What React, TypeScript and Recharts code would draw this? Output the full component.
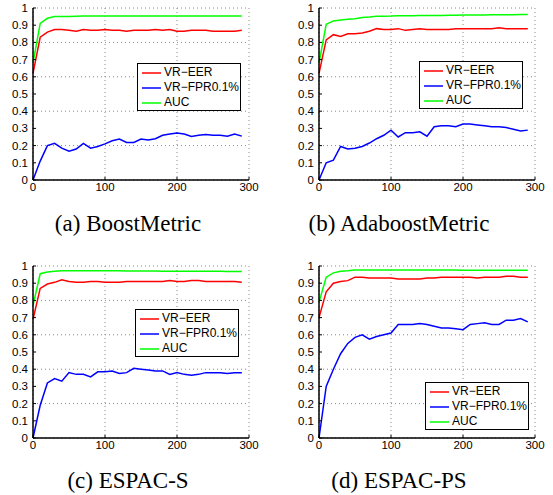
import React from "react"
import { CartesianGrid, Legend, Line, LineChart, XAxis, YAxis } from "recharts"

// boosting iterations
const iterations = [
  0, 10, 20, 30, 40, 50, 60, 70, 80, 90, 100, 110, 120, 130, 140, 150, 160, 170, 180, 190, 200, 210,
  220, 230, 240, 250, 260, 270, 280, 290,
]
const xTicks = [0, 100, 200, 300]
const yTicks = [0, 0.1, 0.2, 0.3, 0.4, 0.5, 0.6, 0.7, 0.8, 0.9, 1]

// (a) BoostMetric
const boostEer = [
  0.62, 0.83, 0.86, 0.875, 0.875, 0.87, 0.865, 0.875, 0.87, 0.87, 0.875, 0.87, 0.87, 0.865, 0.87,
  0.87, 0.87, 0.875, 0.87, 0.875, 0.865, 0.865, 0.87, 0.87, 0.87, 0.865, 0.865, 0.865, 0.865, 0.87,
]
const boostFpr = [
  0, 0.11, 0.2, 0.213, 0.185, 0.167, 0.18, 0.213, 0.185, 0.195, 0.21, 0.228, 0.238, 0.218, 0.218,
  0.238, 0.232, 0.24, 0.26, 0.267, 0.273, 0.267, 0.253, 0.26, 0.265, 0.26, 0.26, 0.255, 0.267, 0.255,
]
const boostAuc = [
  0.68, 0.91, 0.94, 0.95, 0.951, 0.951, 0.952, 0.953, 0.953, 0.953, 0.953, 0.953, 0.953, 0.953, 0.953,
  0.953, 0.953, 0.953, 0.953, 0.953, 0.953, 0.953, 0.953, 0.953, 0.953, 0.953, 0.953, 0.953, 0.953,
  0.953,
]

// (b) AdaboostMetric
const adaEer = [
  0.62, 0.815, 0.845, 0.835, 0.85, 0.85, 0.855, 0.865, 0.88, 0.875, 0.875, 0.88, 0.87, 0.875, 0.88,
  0.875, 0.875, 0.875, 0.875, 0.88, 0.88, 0.88, 0.88, 0.88, 0.88, 0.885, 0.88, 0.88, 0.88, 0.88,
]
const adaFpr = [
  0, 0.1, 0.115, 0.195, 0.18, 0.185, 0.195, 0.215, 0.24, 0.26, 0.29, 0.25, 0.275, 0.275, 0.28, 0.255,
  0.31, 0.315, 0.315, 0.31, 0.325, 0.325, 0.32, 0.315, 0.31, 0.31, 0.305, 0.295, 0.285, 0.29,
]
const adaAuc = [
  0.68, 0.905, 0.925, 0.93, 0.935, 0.937, 0.945, 0.948, 0.952, 0.952, 0.953, 0.955, 0.955, 0.955,
  0.957, 0.957, 0.957, 0.957, 0.958, 0.958, 0.96, 0.96, 0.96, 0.96, 0.961, 0.961, 0.961, 0.961, 0.962,
  0.962,
]

// (c) ESPAC-S
const espacSEer = [
  0.69, 0.87, 0.895, 0.905, 0.92, 0.91, 0.905, 0.905, 0.91, 0.91, 0.905, 0.905, 0.905, 0.91, 0.91,
  0.91, 0.91, 0.91, 0.91, 0.915, 0.91, 0.91, 0.915, 0.915, 0.91, 0.91, 0.91, 0.91, 0.91, 0.905,
]
const espacSFpr = [
  0, 0.19, 0.32, 0.345, 0.33, 0.38, 0.37, 0.37, 0.355, 0.385, 0.385, 0.39, 0.375, 0.38, 0.405, 0.4,
  0.395, 0.39, 0.39, 0.37, 0.38, 0.37, 0.365, 0.37, 0.38, 0.38, 0.38, 0.375, 0.38, 0.38,
]
const espacSAuc = [
  0.77, 0.955, 0.965, 0.97, 0.973, 0.972, 0.972, 0.972, 0.972, 0.972, 0.972, 0.972, 0.972, 0.971,
  0.971, 0.971, 0.971, 0.971, 0.97, 0.97, 0.97, 0.97, 0.97, 0.97, 0.969, 0.969, 0.969, 0.968, 0.968,
  0.968,
]

// (d) ESPAC-PS
const espacPsEer = [
  0.7, 0.85, 0.9, 0.91, 0.915, 0.935, 0.935, 0.93, 0.93, 0.93, 0.93, 0.925, 0.925, 0.925, 0.925, 0.93,
  0.93, 0.935, 0.935, 0.935, 0.935, 0.935, 0.93, 0.935, 0.935, 0.935, 0.94, 0.94, 0.935, 0.935,
]
const espacPsFpr = [
  0, 0.3, 0.4, 0.49, 0.55, 0.585, 0.6, 0.575, 0.59, 0.6, 0.61, 0.66, 0.66, 0.66, 0.665, 0.66, 0.65,
  0.64, 0.64, 0.635, 0.63, 0.66, 0.665, 0.67, 0.66, 0.66, 0.685, 0.685, 0.695, 0.675,
]
const espacPsAuc = [
  0.79, 0.935, 0.96, 0.97, 0.972, 0.977, 0.977, 0.977, 0.977, 0.977, 0.977, 0.977, 0.977, 0.977,
  0.977, 0.977, 0.977, 0.977, 0.977, 0.977, 0.976, 0.976, 0.976, 0.976, 0.976, 0.976, 0.976, 0.975,
  0.975, 0.975,
]

const seriesNames = ["VR\u2212EER", "VR\u2212FPR0.1%", "AUC"]
const seriesColors = ["#ff0000", "#0000ff", "#00ff00"]

const sans = "'Liberation Sans', Arial, sans-serif"
const serif = "'Liberation Serif', 'Times New Roman', serif"
const tickStyle = { fill: "#000", fontSize: 11.5, fontFamily: sans }

// Legend box, MATLAB style
function LegendBox() {
  return (
    <div
      style={{
        width: 104,
        height: 48,
        boxSizing: "border-box",
        border: "1.5px solid #000",
        background: "#fff",
        paddingTop: 1,
      }}
    >
      {seriesNames.map((name, i) => (
        <div key={name} style={{ height: 15.2, display: "flex", alignItems: "center" }}>
          <svg width={26} height={10} style={{ flex: "none" }}>
            <line x1={4} y1={5} x2={23} y2={5} stroke={seriesColors[i]} strokeWidth={1.5} />
          </svg>
          <span style={{ fontFamily: sans, fontSize: 12, color: "#000", lineHeight: "15px" }}>{name}</span>
        </div>
      ))}
    </div>
  )
}

interface PanelProps {
  eer: number[]
  fpr: number[]
  auc: number[]
  yAxisWidth: number
  legendLeft: number
  legendTop: number
}

function Panel({ eer, fpr, auc, yAxisWidth, legendLeft, legendTop }: PanelProps) {
  const data = iterations.map((x, i) => ({ x, eer: eer[i], fpr: fpr[i], auc: auc[i] }))
  const axisLine = { stroke: "#000", strokeWidth: 1.5 }
  return (
    <LineChart
      width={yAxisWidth + 216 + 12}
      height={200}
      data={data}
      margin={{ top: 8, right: 12, bottom: 0, left: 0 }}
    >
      <CartesianGrid stroke="#888" strokeDasharray="1 3" />
      <XAxis
        dataKey="x"
        type="number"
        domain={[0, 300]}
        ticks={xTicks}
        height={20}
        tick={tickStyle}
        tickSize={-3}
        tickMargin={6}
        axisLine={axisLine}
        tickLine={{ stroke: "#000" }}
      />
      <XAxis xAxisId="top" orientation="top" type="number" domain={[0, 300]} height={0} tick={false} axisLine={axisLine} />
      <YAxis
        type="number"
        domain={[0, 1]}
        ticks={yTicks}
        width={yAxisWidth}
        tick={tickStyle}
        tickSize={-3}
        tickMargin={8}
        axisLine={axisLine}
        tickLine={{ stroke: "#000" }}
      />
      <YAxis yAxisId="right" orientation="right" type="number" domain={[0, 1]} width={0} tick={false} axisLine={axisLine} />
      <Legend
        layout="vertical"
        align="center"
        verticalAlign="middle"
        content={() => <LegendBox />}
        wrapperStyle={{ left: legendLeft, top: legendTop, width: 104 }}
      />
      <Line type="linear" dataKey="eer" stroke={seriesColors[0]} strokeWidth={1.5} dot={false} isAnimationActive={false} />
      <Line type="linear" dataKey="fpr" stroke={seriesColors[1]} strokeWidth={1.5} dot={false} isAnimationActive={false} />
      <Line type="linear" dataKey="auc" stroke={seriesColors[2]} strokeWidth={1.5} dot={false} isAnimationActive={false} />
    </LineChart>
  )
}

function Caption({ text, centerX, top }: { text: string; centerX: number; top: number }) {
  return (
    <div
      style={{
        position: "absolute",
        left: centerX - 120,
        top,
        width: 240,
        textAlign: "center",
        fontFamily: serif,
        fontSize: 23,
        lineHeight: "23px",
        color: "#000",
      }}
    >
      {text}
    </div>
  )
}

export default function App() {
  return (
    <div style={{ position: "absolute", left: 0, top: 0, width: 553, height: 495, background: "#fff" }}>
      <div style={{ position: "absolute", left: 0, top: 0 }}>
        <Panel eer={boostEer} fpr={boostFpr} auc={boostAuc} yAxisWidth={33} legendLeft={137} legendTop={63} />
      </div>
      <div style={{ position: "absolute", left: 276, top: 0 }}>
        <Panel eer={adaEer} fpr={adaFpr} auc={adaAuc} yAxisWidth={43} legendLeft={143} legendTop={61} />
      </div>
      <div style={{ position: "absolute", left: 0, top: 258 }}>
        <Panel eer={espacSEer} fpr={espacSFpr} auc={espacSAuc} yAxisWidth={33} legendLeft={135} legendTop={51} />
      </div>
      <div style={{ position: "absolute", left: 276, top: 258 }}>
        <Panel eer={espacPsEer} fpr={espacPsFpr} auc={espacPsAuc} yAxisWidth={43} legendLeft={149} legendTop={124} />
      </div>
      <Caption text="(a) BoostMetric" centerX={128} top={212} />
      <Caption text="(b) AdaboostMetric" centerX={399} top={212} />
      <Caption text="(c) ESPAC-S" centerX={128} top={469} />
      <Caption text="(d) ESPAC-PS" centerX={399} top={469} />
    </div>
  )
}
